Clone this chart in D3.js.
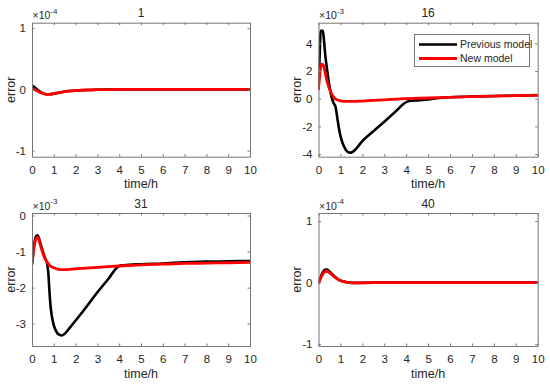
<!DOCTYPE html>
<html>
<head>
<meta charset="utf-8">
<script src="https://cdn.jsdelivr.net/npm/d3@7"></script>
<style>
body { margin: 0; background: #fff; }
svg, svg text { font-family: "Liberation Sans", Arial, sans-serif; }
</style>
</head>
<body>
<div id="chart"></div>
<script>
/* Data (values in units of the axis multiplier) */

var titles = ["1", "16", "31", "40"];
var exponents = ["-4", "-3", "-3", "-4"];
var xTicks = [0, 1, 2, 3, 4, 5, 6, 7, 8, 9, 10];
var yTicks = [[-1, 0, 1], [-4, -2, 0, 2, 4], [-3, -2, -1, 0], [-1, 0, 1]];
var yDomains = [[-1.1, 1.09], [-4.19, 5.49], [-3.62, 0.07], [-1.03, 1.13]];
var seriesNames = ["Previous model", "New model"];

// panel 1
var t1 = [0, 0.1, 0.2, 0.35, 0.5, 0.65, 0.8, 1.0, 1.2, 1.5, 2, 2.5, 3, 4, 6, 8, 10];
var prev1 = [0.06, 0.04, 0.01, -0.03, -0.06, -0.08, -0.08, -0.07, -0.055, -0.035, -0.02, -0.01, -0.005, 0, 0, 0, 0];
var new1 = [0.02, 0.0, -0.02, -0.045, -0.065, -0.08, -0.08, -0.07, -0.055, -0.035, -0.02, -0.01, -0.005, 0, 0, 0, 0];

// panel 2
var t2p = [0, 0.05, 0.1, 0.2, 0.25, 0.3, 0.4, 0.5, 0.6, 0.7, 0.78, 0.85, 0.95, 1.05, 1.15, 1.25, 1.35, 1.44, 1.55, 1.7, 1.85, 2.05, 2.5, 3.0, 3.5, 4.0, 4.2, 4.5, 5.0, 5.5, 6, 7, 8, 9, 10];
var prev2 = [0.7, 3.0, 4.9, 4.9, 4.2, 3.3, 2.0, 0.9, 0.1, -0.35, -0.6, -1.3, -2.3, -2.98, -3.4, -3.7, -3.86, -3.9, -3.85, -3.65, -3.35, -2.98, -2.35, -1.66, -0.95, -0.25, -0.15, -0.12, -0.05, 0.05, 0.1, 0.15, 0.2, 0.22, 0.25];
var t2n = [0, 0.05, 0.1, 0.17, 0.25, 0.3, 0.4, 0.5, 0.6, 0.7, 0.8, 1.0, 1.3, 1.6, 2, 2.5, 3, 4, 5, 6, 7, 8, 9, 10];
var new2 = [0.7, 1.6, 2.3, 2.5, 2.3, 1.9, 1.2, 0.7, 0.35, 0.1, -0.05, -0.15, -0.2, -0.2, -0.17, -0.12, -0.08, 0, 0.05, 0.1, 0.15, 0.18, 0.22, 0.25];

// panel 3
var t3p = [0, 0.05, 0.1, 0.18, 0.25, 0.3, 0.4, 0.5, 0.6, 0.7, 0.75, 0.8, 0.85, 0.9, 1.0, 1.1, 1.2, 1.36, 1.5, 1.7, 1.9, 2.5, 3.0, 3.5, 4.0, 4.2, 5, 6, 7, 8, 9, 10];
var prev3 = [-1.35, -1.05, -0.8, -0.58, -0.55, -0.6, -0.8, -1.0, -1.18, -1.35, -1.6, -2.1, -2.5, -2.75, -3.05, -3.2, -3.29, -3.33, -3.28, -3.14, -2.99, -2.53, -2.13, -1.76, -1.4, -1.38, -1.35, -1.33, -1.3, -1.28, -1.27, -1.26];
var t3n = [0, 0.05, 0.1, 0.18, 0.25, 0.3, 0.4, 0.5, 0.6, 0.7, 0.8, 1.0, 1.3, 1.6, 2, 3, 4, 5, 6, 7, 8, 9, 10];
var new3 = [-1.35, -1.1, -0.85, -0.65, -0.6, -0.65, -0.85, -1.05, -1.2, -1.3, -1.38, -1.45, -1.5, -1.5, -1.48, -1.44, -1.4, -1.37, -1.35, -1.33, -1.32, -1.31, -1.3];

// panel 4
var t4 = [0, 0.1, 0.2, 0.3, 0.4, 0.5, 0.7, 0.9, 1.1, 1.4, 1.8, 2.5, 4, 6, 8, 10];
var prev4 = [0, 0.09, 0.17, 0.21, 0.21, 0.18, 0.11, 0.05, 0.02, 0.0, -0.005, 0, 0, 0, 0, 0];
var new4 = [0, 0.07, 0.14, 0.18, 0.18, 0.16, 0.1, 0.05, 0.02, 0.0, -0.005, 0, 0, 0, 0, 0];

var panelSeries = [
	[{t: t1, v: prev1}, {t: t1, v: new1}],
	[{t: t2p, v: prev2}, {t: t2n, v: new2}],
	[{t: t3p, v: prev3}, {t: t3n, v: new3}],
	[{t: t4, v: prev4}, {t: t4, v: new4}]
];

/* Layout */

var width = 550, height = 384;
var boxes = [
	{x0: 32, x1: 250, y0: 22.7, y1: 156.7},
	{x0: 318.5, x1: 537.7, y0: 22.7, y1: 156.7},
	{x0: 32, x1: 250, y0: 213, y1: 346},
	{x0: 318.5, x1: 537.7, y0: 213, y1: 346}
];
var colors = ["#000000", "#ff0000"];
var lineWidths = [2.6, 2.8];
var axisColor = "#777";
var textColor = "#262626";
var tickLen = 2.5;

var svg = d3.select("#chart").append("svg")
	.attr("width", width)
	.attr("height", height);

function styleAxis(sel) {
	sel.attr("font-family", null).attr("font-size", null);
	sel.selectAll(".domain").attr("stroke", axisColor);
	sel.selectAll(".tick line").attr("stroke", axisColor);
}

function drawPanel(i) {
	var b = boxes[i];
	var x = d3.scaleLinear().domain([0, 10]).range([b.x0, b.x1]);
	var y = d3.scaleLinear().domain(yDomains[i]).range([b.y1, b.y0]);
	var g = svg.append("g");

	g.append("clipPath").attr("id", "clip" + i)
		.append("rect")
		.attr("x", b.x0).attr("y", b.y0)
		.attr("width", b.x1 - b.x0).attr("height", b.y1 - b.y0);

	/* ------- series -------*/
	var line = d3.line()
		.x(function(d) { return x(d[0]); })
		.y(function(d) { return y(d[1]); })
		.curve(d3.curveMonotoneX);
	var lines = g.append("g").attr("clip-path", "url(#clip" + i + ")");
	panelSeries[i].forEach(function(s, k) {
		var pts = s.t.map(function(t, j) { return [t, s.v[j]]; });
		lines.append("path")
			.attr("d", line(pts))
			.attr("fill", "none")
			.attr("stroke", colors[k])
			.attr("stroke-width", lineWidths[k])
			.attr("stroke-linejoin", "round")
			.attr("stroke-linecap", "round");
	});

	/* ------- axes (MATLAB style, ticks inside, box on) -------*/
	var fmt = function(d) { return d < 0 ? "-" + Math.abs(d) : d; };
	var bottom = g.append("g").attr("transform", "translate(0," + b.y1 + ")")
		.call(d3.axisBottom(x).tickValues(xTicks).tickSizeInner(-tickLen).tickSizeOuter(0).tickPadding(9).tickFormat(fmt));
	var top = g.append("g").attr("transform", "translate(0," + b.y0 + ")")
		.call(d3.axisTop(x).tickValues(xTicks).tickSizeInner(-tickLen).tickSizeOuter(0).tickFormat(""));
	var left = g.append("g").attr("transform", "translate(" + b.x0 + ",0)")
		.call(d3.axisLeft(y).tickValues(yTicks[i]).tickSizeInner(-tickLen).tickSizeOuter(0).tickPadding(6).tickFormat(fmt));
	var right = g.append("g").attr("transform", "translate(" + b.x1 + ",0)")
		.call(d3.axisRight(y).tickValues(yTicks[i]).tickSizeInner(-tickLen).tickSizeOuter(0).tickFormat(""));

	[bottom, top, left, right].forEach(styleAxis);
	top.selectAll(".tick text").remove();
	right.selectAll(".tick text").remove();
	bottom.selectAll(".tick text").attr("fill", textColor).style("font-size", "11.5px");
	left.selectAll(".tick text").attr("fill", textColor).style("font-size", "11.5px");

	/* ------- texts -------*/
	g.append("text")
		.attr("x", (b.x0 + b.x1) / 2).attr("y", b.y0 - 5.5)
		.attr("text-anchor", "middle").attr("fill", textColor)
		.style("font-size", "12px")
		.text(titles[i]);

	var ex = g.append("text")
		.attr("x", b.x0 + 0.5).attr("y", b.y0 - 3.5)
		.attr("fill", textColor).style("font-size", "10.5px");
	ex.append("tspan").text("\u00d710");
	ex.append("tspan").attr("dy", -5.5).style("font-size", "8px").text(exponents[i]);

	g.append("text")
		.attr("x", (b.x0 + b.x1) / 2).attr("y", b.y1 + 31.5)
		.attr("text-anchor", "middle").attr("fill", textColor)
		.style("font-size", "12.5px")
		.text("time/h");

	g.append("text")
		.attr("transform", "translate(" + (b.x0 - 17.5) + "," + ((b.y0 + b.y1) / 2) + ") rotate(-90)")
		.attr("text-anchor", "middle").attr("fill", textColor)
		.style("font-size", "12.5px")
		.text("error");
}

for (var i = 0; i < 4; i++) {
	drawPanel(i);
}

/* ------- legend (panel 16) -------*/
var leg = svg.append("g");
leg.append("rect")
	.attr("x", 414.5).attr("y", 34.5)
	.attr("width", 115).attr("height", 32)
	.attr("fill", "#fff").attr("stroke", axisColor);
seriesNames.forEach(function(name, k) {
	var ly = 44.5 + k * 14;
	leg.append("line")
		.attr("x1", 419).attr("x2", 457)
		.attr("y1", ly).attr("y2", ly)
		.attr("stroke", colors[k]).attr("stroke-width", lineWidths[k]);
	leg.append("text")
		.attr("x", 460).attr("y", ly + 3.5)
		.attr("fill", textColor).style("font-size", "10.5px")
		.text(name);
});
</script>
</body>
</html>
